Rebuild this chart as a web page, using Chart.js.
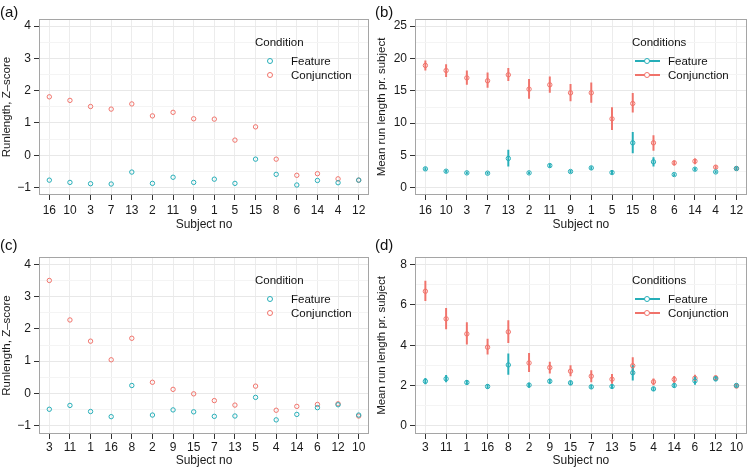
<!DOCTYPE html>
<html>
<head>
<meta charset="utf-8">
<script src="https://cdn.jsdelivr.net/npm/chart.js@4.4.1/dist/chart.umd.min.js"></script>
<style>
body { margin: 0; background: #fff; font-family: "Liberation Sans", Arial, sans-serif; }
#wrap { position: relative; width: 750px; height: 470px; overflow: hidden; }
canvas { position: absolute; }
.lbl { position: absolute; font-size: 15px; color: #111; line-height: 18px; }
.leg { position: absolute; font-size: 11.5px; color: #111; line-height: 14px; white-space: nowrap; }
.dot { position: absolute; width: 4px; height: 4px; border: 1px solid; border-radius: 50%; background: #fff; }
.ln { position: absolute; height: 2px; }
</style>
</head>
<body>
<div id="wrap">
  <canvas id="pa" width="375" height="235" style="left:0;top:0"></canvas>
  <canvas id="pb" width="375" height="235" style="left:375px;top:0"></canvas>
  <canvas id="pc" width="375" height="235" style="left:0;top:235px"></canvas>
  <canvas id="pd" width="375" height="235" style="left:375px;top:235px"></canvas>
  <div class="lbl" style="left:0;top:3px">(a)</div>
  <div class="lbl" style="left:375px;top:3px">(b)</div>
  <div class="lbl" style="left:0;top:236px">(c)</div>
  <div class="lbl" style="left:375px;top:236px">(d)</div>
</div>
<script>
// subject order on the x axis
const subjectsTop = ['16', '10', '3', '7', '13', '2', '11', '9', '1', '5', '15', '8', '6', '14', '4', '12'];
const subjectsBottom = ['3', '11', '1', '16', '8', '2', '9', '15', '7', '13', '5', '4', '14', '6', '12', '10'];

// (a) z-scores
const zFeatureA = [-0.77, -0.84, -0.88, -0.89, -0.52, -0.87, -0.68, -0.84, -0.74, -0.87, -0.12, -0.59, -0.92, -0.78, -0.85, -0.77];
const zConjA = [1.81, 1.70, 1.51, 1.43, 1.59, 1.22, 1.33, 1.13, 1.12, 0.47, 0.88, -0.12, -0.62, -0.57, -0.73, -0.77];

// (b) mean run length with ranges
const featB = [2.94, 2.58, 2.32, 2.27, 4.55, 2.32, 3.45, 2.53, 3.09, 2.37, 6.96, 4.02, 2.06, 2.89, 2.47, 2.99];
const featLoB = [2.75, 2.4, 2.15, 2.1, 3.36, 2.15, 3.2, 2.35, 2.85, 2.2, 5.4, 3.35, 1.9, 2.7, 2.3, 2.8];
const featHiB = [3.15, 2.75, 2.5, 2.45, 5.83, 2.5, 3.7, 2.7, 3.3, 2.55, 8.6, 4.7, 2.2, 3.1, 2.65, 3.2];
const conjB = [18.92, 18.14, 17.0, 16.55, 17.47, 15.26, 15.93, 14.69, 14.69, 10.67, 13.04, 6.96, 3.87, 4.12, 3.2, 3.0];
const conjLoB = [18.2, 17.2, 16.0, 15.53, 16.55, 13.82, 14.75, 13.45, 13.2, 9.0, 11.7, 5.8, 3.5, 3.7, 2.95, 2.8];
const conjHiB = [19.64, 19.07, 18.1, 17.78, 18.46, 16.76, 17.16, 15.99, 16.24, 12.4, 14.6, 8.1, 4.2, 4.5, 3.45, 3.2];

// (c) z-scores
const zFeatureC = [-0.50, -0.38, -0.57, -0.73, 0.24, -0.68, -0.52, -0.58, -0.72, -0.71, -0.13, -0.83, -0.66, -0.45, -0.36, -0.68];
const zConjC = [3.51, 2.28, 1.62, 1.04, 1.71, 0.34, 0.12, -0.02, -0.23, -0.37, 0.22, -0.53, -0.41, -0.35, -0.33, -0.71];

// (d) mean run length with ranges
const featD = [2.21, 2.33, 2.15, 1.95, 3.02, 2.02, 2.21, 2.13, 1.93, 1.95, 2.63, 1.83, 2.00, 2.23, 2.33, 2.00];
const featLoD = [2.08, 2.18, 2.05, 1.85, 2.55, 1.9, 2.1, 2.03, 1.85, 1.85, 2.26, 1.74, 1.9, 2.05, 2.22, 1.92];
const featHiD = [2.35, 2.5, 2.25, 2.05, 3.57, 2.12, 2.32, 2.23, 2.02, 2.05, 2.99, 1.92, 2.1, 2.45, 2.45, 2.08];
const conjD = [6.68, 5.31, 4.56, 3.90, 4.66, 3.12, 2.89, 2.71, 2.46, 2.31, 2.98, 2.18, 2.30, 2.36, 2.38, 1.97];
const conjLoD = [6.21, 4.81, 4.05, 3.55, 4.12, 2.68, 2.61, 2.48, 2.18, 2.10, 2.56, 2.03, 2.13, 2.18, 2.28, 1.9];
const conjHiD = [7.19, 5.83, 5.12, 4.30, 5.22, 3.59, 3.16, 2.99, 2.74, 2.55, 3.39, 2.33, 2.45, 2.51, 2.48, 2.05];

// y ticks
const ticksZ = [-1, 0, 1, 2, 3, 4];
const minorZ = [-0.5, 0.5, 1.5, 2.5, 3.5];
const ticksB = [0, 5, 10, 15, 20, 25];
const minorB = [2.5, 7.5, 12.5, 17.5, 22.5];
const ticksD = [0, 2, 4, 6, 8];
const minorD = [1, 3, 5, 7];

const red = '#F0736B';
const teal = '#26AEB8';
const font = '"Liberation Sans", Arial, sans-serif';

function fmt(v) {
    return v < 0 ? '\u2212' + (-v) : String(v);
}

const borderPlugin = {
    id: 'panelBorder',
    afterDraw(chart) {
        const a = chart.chartArea;
        const c = chart.ctx;
        c.save();
        c.strokeStyle = '#a5a5a5';
        c.lineWidth = 1;
        c.strokeRect(Math.round(a.left) + 0.5, Math.round(a.top) + 0.5, Math.round(a.right - a.left) - 1, Math.round(a.bottom - a.top) - 1);
        c.restore();
    }
};

function makePanel(id, cfg) {
    const ds = [];
    cfg.series.forEach(s => {
        ds.push({
            type: 'line', label: s.name, data: s.values, showLine: false,
            borderColor: s.color, backgroundColor: 'rgba(0,0,0,0)',
            pointBackgroundColor: 'rgba(0,0,0,0)',
            pointRadius: 2.2, pointBorderWidth: 1, pointHoverRadius: 2.2, order: 0
        });
        if (s.lo) {
            ds.push({
                type: 'bar', label: s.name + ' range', data: s.lo.map((v, i) => [v, s.hi[i]]),
                backgroundColor: s.color, borderWidth: 0, barThickness: 1.3, grouped: false, order: 5
            });
        }
    });
    const allTicks = cfg.major.concat(cfg.minor).sort((a, b) => a - b);
    new Chart(document.getElementById(id), {
        type: 'line',
        data: { labels: cfg.labels, datasets: ds },
        options: {
            responsive: false,
            animation: false,
            devicePixelRatio: 1,
            layout: { padding: { top: cfg.top, right: cfg.right, left: 0, bottom: 0 } },
            plugins: { legend: { display: false }, tooltip: { enabled: false } },
            scales: {
                x: {
                    offset: true,
                    grid: { offset: false, color: '#ececec', tickColor: '#333', tickLength: 5 },
                    border: { display: false },
                    ticks: { color: '#1a1a1a', font: { family: font, size: 12 }, padding: cfg.tp, maxRotation: 0, autoSkip: false },
                    title: { display: true, text: 'Subject no', color: '#1a1a1a', font: { family: font, size: 12 }, padding: { top: 0, bottom: cfg.tb } },
                    afterFit(s) { s.height = cfg.xh; }
                },
                y: {
                    min: cfg.min,
                    max: cfg.max,
                    afterBuildTicks(s) { s.ticks = allTicks.map(v => ({ value: v })); },
                    ticks: {
                        color: '#1a1a1a', font: { family: font, size: 12 }, padding: 3,
                        callback(v) { return cfg.major.includes(v) ? fmt(v) : ''; }
                    },
                    grid: {
                        color(c) { return cfg.major.includes(c.tick.value) ? '#e8e8e8' : '#f4f4f4'; },
                        tickColor(c) { return cfg.major.includes(c.tick.value) ? '#333' : 'rgba(0,0,0,0)'; },
                        tickLength: 5
                    },
                    border: { display: false },
                    title: { display: true, text: cfg.yTitle, color: '#1a1a1a', font: { family: font, size: 11.5 }, padding: { top: 0, bottom: 0 } },
                    afterFit(s) { s.width = cfg.yw; }
                }
            }
        },
        plugins: [borderPlugin]
    });
}

function addLegend(x, y, title, names, colors, withLine) {
    const wrap = document.getElementById('wrap');
    const t = document.createElement('div');
    t.className = 'leg';
    t.style.left = x + 'px';
    t.style.top = (y - 7) + 'px';
    t.textContent = title;
    wrap.appendChild(t);
    names.forEach((n, i) => {
        const cy = y + 19 + i * 13.5;
        const cx = x + 15;
        if (withLine) {
            const l = document.createElement('div');
            l.className = 'ln';
            l.style.left = (x + 3) + 'px';
            l.style.top = (cy - 1) + 'px';
            l.style.width = '25px';
            l.style.background = colors[i];
            wrap.appendChild(l);
        }
        const d = document.createElement('div');
        d.className = 'dot';
        d.style.left = (cx - 3) + 'px';
        d.style.top = (cy - 3) + 'px';
        d.style.borderColor = colors[i];
        wrap.appendChild(d);
        const tx = document.createElement('div');
        tx.className = 'leg';
        tx.style.left = (x + 36) + 'px';
        tx.style.top = (cy - 7) + 'px';
        tx.textContent = n;
        wrap.appendChild(tx);
    });
}

const names = ['Feature', 'Conjunction'];

makePanel('pa', {
    labels: subjectsTop, min: -1.23, max: 4.22, major: ticksZ, minor: minorZ,
    yTitle: 'Runlength, Z\u2013score', top: 19, right: 6, yw: 39, xh: 40, tp: 3, tb: 3,
    series: [
        { name: 'Feature', values: zFeatureA, color: teal },
        { name: 'Conjunction', values: zConjA, color: red }
    ]
});
makePanel('pb', {
    labels: subjectsTop, min: -1.1, max: 26.1, major: ticksB, minor: minorB,
    yTitle: 'Mean run length pr. subject', top: 19, right: 3, yw: 40, xh: 40, tp: 3, tb: 3,
    series: [
        { name: 'Feature', values: featB, lo: featLoB, hi: featHiB, color: teal },
        { name: 'Conjunction', values: conjB, lo: conjLoB, hi: conjHiB, color: red }
    ]
});
makePanel('pc', {
    labels: subjectsBottom, min: -1.27, max: 4.24, major: ticksZ, minor: minorZ,
    yTitle: 'Runlength, Z\u2013score', top: 22, right: 6, yw: 39, xh: 36, tp: 1, tb: 2,
    series: [
        { name: 'Feature', values: zFeatureC, color: teal },
        { name: 'Conjunction', values: zConjC, color: red }
    ]
});
makePanel('pd', {
    labels: subjectsBottom, min: -0.41, max: 8.38, major: ticksD, minor: minorD,
    yTitle: 'Mean run length pr. subject', top: 22, right: 3, yw: 40, xh: 36, tp: 1, tb: 2,
    series: [
        { name: 'Feature', values: featD, lo: featLoD, hi: featHiD, color: teal },
        { name: 'Conjunction', values: conjD, lo: conjLoD, hi: conjHiD, color: red }
    ]
});

addLegend(255, 42, 'Condition', names, [teal, red], false);
addLegend(632, 42, 'Conditions', names, [teal, red], true);
addLegend(255, 280, 'Condition', names, [teal, red], false);
addLegend(632, 280, 'Conditions', names, [teal, red], true);
</script>
</body>
</html>
